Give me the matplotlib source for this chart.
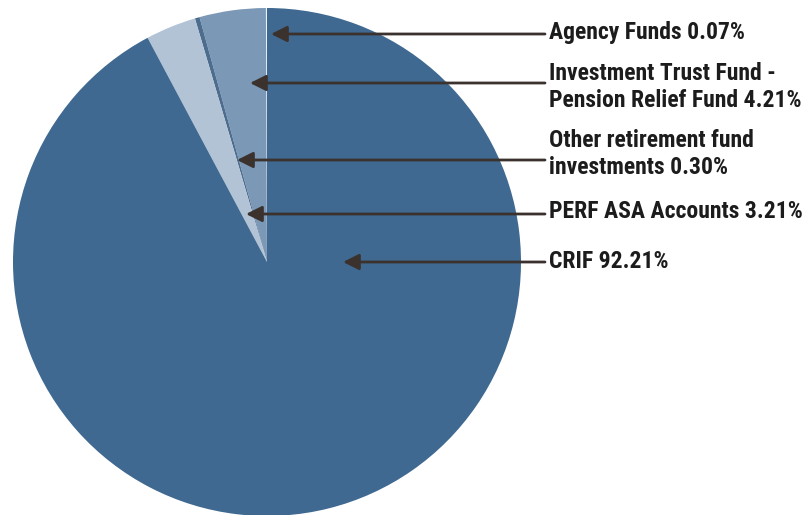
import matplotlib.pyplot as plt

# slice data, counterclockwise from 12 o'clock
labels = ["Agency Funds 0.07%",
          "Investment Trust Fund -\nPension Relief Fund 4.21%",
          "Other retirement fund\ninvestments 0.30%",
          "PERF ASA Accounts 3.21%",
          "CRIF 92.21%"]
shares = [0.07, 4.21, 0.30, 3.21, 92.21]
colors = ["#eef2f6", "#7b98b6", "#4d6d8f", "#b2c3d6", "#3f6991"]

# arrow tips (pixel coords, y from top) and label rows
tips_x = [271, 250, 237, 246, 343]
tips_y = [34, 83, 160, 214, 262]
label_y = [32, 87, 154, 212, 261]

W, H = 808, 515
fig = plt.figure(figsize=(W / 100, H / 100), dpi=100)
ax = fig.add_axes([0, 0, 1, 1])

ax.pie(shares, colors=colors, startangle=90, counterclock=True,
       center=(267, H - 262), radius=254,
       wedgeprops=dict(linewidth=0))

ax.set_xlim(0, W)
ax.set_ylim(0, H)
ax.set_aspect('equal')
ax.axis('off')

arrow_col = "#3b322e"
for lab, tx, ty, ly in zip(labels, tips_x, tips_y, label_y):
    ax.annotate('', xy=(tx, H - ty), xytext=(545, H - ty),
                arrowprops=dict(arrowstyle='-|>', color=arrow_col, lw=2,
                                mutation_scale=24, shrinkA=0, shrinkB=0))
    ax.text(549, H - ly, lab, ha='left', va='center', fontsize=17,
            fontweight='bold', color="#1c1c1c", linespacing=1.2,
            family=['Roboto Condensed', 'DejaVu Sans'])

fig.savefig('out.png', dpi=100)
